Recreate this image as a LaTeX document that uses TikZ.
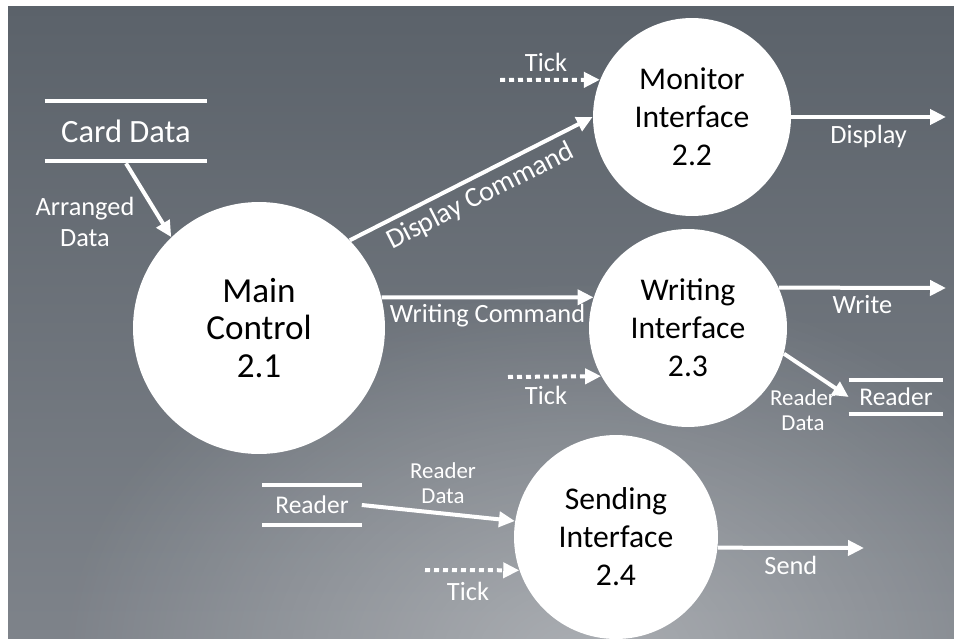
\documentclass[tikz,border=0pt]{standalone}
\usepackage{fontspec}
\setmainfont{Carlito}
\usetikzlibrary{arrows.meta,fadings}
\definecolor{bgtop}{HTML}{5B626A}
\definecolor{bgbot}{HTML}{7E838A}
\tikzfading[name=glowfade, inner color=transparent!0, outer color=transparent!100]
\tikzset{
  process/.style={circle, fill=white, text=black, align=center, inner sep=0pt, font=\fontsize{18}{21.6}\selectfont},
  store/.style={text=white, inner sep=0pt, font=\fontsize{14.5}{17}\selectfont},
  storeline/.style={white, line width=0.08cm},
  flow/.style={white, line width=0.08cm, -{Triangle[length=0.32cm, width=0.3cm]}},
  tickflow/.style={flow, dash pattern=on 0.1cm off 0.08cm},
  lbl/.style={text=white, align=center, inner sep=0pt, font=\fontsize{15}{18}\selectfont},
  smalllbl/.style={lbl, font=\fontsize{13}{14.5}\selectfont}
}
\begin{document}
\begin{tikzpicture}[x=0.02cm, y=-0.02cm]
        \useasboundingbox (0,0) rectangle (954,639);
        % Draw background
        \shade[top color=bgtop, bottom color=bgbot] (8,6) rectangle (954,639);
        \begin{scope}
          \clip (8,6) rectangle (954,639);
          \fill[white, opacity=0.35, path fading=glowfade] (580,660) ellipse (520 and 380);
        \end{scope}
        % Draw processes
        \node[process, minimum size=5.04cm, font=\fontsize{20}{21.6}\selectfont] (main) at (259,328) {Main\\Control\\2.1};
        \node[process, minimum size=3.96cm] (mon) at (692,117) {Monitor\\Interface\\2.2};
        \node[process, minimum size=3.96cm] (wri) at (688,328) {Writing\\Interface\\2.3};
        \node[process, minimum size=4.08cm] (snd) at (616,537) {Sending\\Interface\\2.4};
        % Draw data stores
        \node[store, minimum width=3.24cm, minimum height=1.2cm, font=\fontsize{18.5}{20}\selectfont] (card) at (126,131) {Card Data};
        \node[store, minimum width=1.88cm, minimum height=0.68cm] (rdr1) at (896,397) {Reader};
        \node[store, minimum width=1.98cm, minimum height=0.79cm] (rdr2) at (312,505) {Reader};
        \foreach \s in {card,rdr1,rdr2}
          \draw[storeline] (\s.north west) -- (\s.north east) (\s.south west) -- (\s.south east);
        % Free ends
        \coordinate (t1) at (500,80);
        \coordinate (t2) at (508,377);
        \coordinate (t3) at (425,570);
        \coordinate (dispout) at (946,117);
        \coordinate (writeout) at (946,288);
        \coordinate (sendout) at (864,548);
        % Draw flows
        \draw[flow] ([yshift=-0.04cm]card.south) -- (main.134);
        \node[lbl] at (85,222) {Arranged\\Data};
        \draw[flow] (main.44) -- (mon.west) node[midway, sloped, below=0.12cm, lbl, font=\fontsize{16}{18}\selectfont] {Display Command};
        \draw[flow] (main.14) -- (wri.162) node[midway, below=0.1cm, lbl] {Writing Command};
        \draw[tickflow] (t1) -- (mon.158);
        \node[lbl] at (546,62) {Tick};
        \draw[flow] (mon.east) -- (dispout) node[midway, below=0.12cm, lbl] {Display};
        \draw[flow] (wri.24) -- (writeout) node[midway, below=0.12cm, lbl] {Write};
        \draw[tickflow] (t2) -- (wri.209);
        \node[lbl] at (546,395) {Tick};
        \draw[flow] (wri.-15) -- (rdr1.west);
        \node[smalllbl] at (803,410) {Reader\\Data};
        \draw[flow] (rdr2.east) -- (snd.171);
        \node[smalllbl] at (443,483) {Reader\\Data};
        \draw[tickflow] (t3) -- (snd.199);
        \node[lbl] at (468,591) {Tick};
        \draw[flow] (snd.354) -- (sendout) node[midway, below=0.12cm, lbl] {Send};
      \end{tikzpicture}
\end{document}
